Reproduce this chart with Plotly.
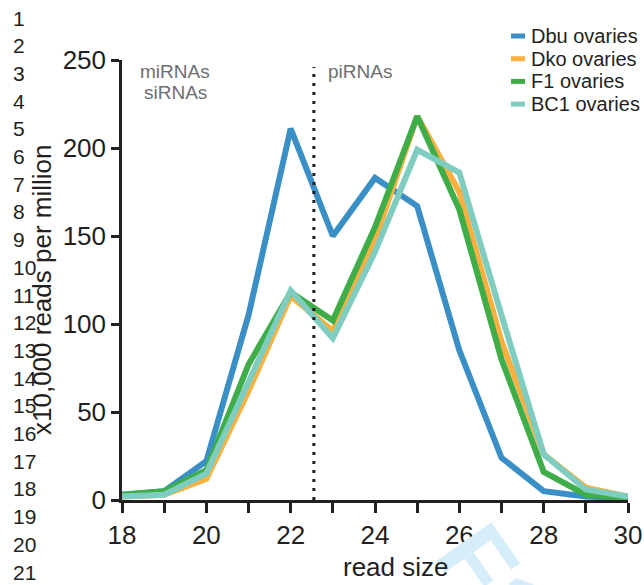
import plotly.graph_objects as go

# read sizes (nt) and normalised counts (x10,000 reads per million)
read_size = [18, 19, 20, 21, 22, 23, 24, 25, 26, 27, 28, 29, 30]
dbu = [3, 5, 22, 105, 211, 150, 183, 167, 85, 24, 5, 2, 1]
dko = [2, 3, 12, 62, 116, 96, 148, 218, 175, 90, 26, 7, 2]
f1 = [3, 5, 17, 77, 118, 102, 155, 218, 165, 80, 16, 3, 1]
bc1 = [2, 3, 15, 68, 119, 92, 141, 199, 186, 105, 26, 6, 2]

series_names = ["Dbu ovaries", "Dko ovaries", "F1 ovaries", "BC1 ovaries"]
series_values = [dbu, dko, f1, bc1]
colores = ["#3a90c6", "#fbb040", "#3fae49", "#7fcdc0"]

divisor = 22.55  # miRNA/siRNA | piRNA boundary
line_numbers = list(range(1, 22))

FONT = "Liberation Sans, Arial, sans-serif"
TXT = "#231f20"
GRIS = "#6d6e71"
W, H = 644, 585
L, R, T, B = 122, 628, 60, 500  # plot area in pixels


def paper(x, y):
    return (x - L) / (R - L), (B - y) / (B - T)


def texto(x, y, s, size, color=TXT, xanchor="left", **kw):
    px_, py_ = paper(x, y)
    return dict(x=px_, y=py_, xref="paper", yref="paper", text=s, showarrow=False,
                xanchor=xanchor, yanchor="middle",
                font=dict(family=FONT, size=size, color=color), **kw)


fig = go.Figure()
for nome, vals, cor in zip(series_names, series_values, colores):
    fig.add_trace(
        go.Scatter(x=read_size, y=vals, name=nome, mode="lines",
                   line=dict(color=cor, width=6), showlegend=False)
    )

# dotted boundary
fig.add_shape(type="line", x0=divisor, x1=divisor, y0=0, y1=246, xref="x", yref="y",
              line=dict(color=TXT, width=3, dash="3px,6px"))

anots = []
# watermark (below everything else)
anots.append(texto(493, 583, "<b>F1</b>", 98, color="#d6edfa", xanchor="center", textangle=55))

# region labels
anots.append(texto(175, 72, "miRNAs", 19, GRIS, xanchor="center"))
anots.append(texto(175, 92, "siRNAs", 19, GRIS, xanchor="center"))
anots.append(texto(326, 72, "piRNAs", 19, GRIS))

# custom legend
for i, (nome, cor) in enumerate(zip(series_names, colores)):
    yy = 36 + i * 22.7
    x0, y0 = paper(511, yy)
    x1, _ = paper(525, yy)
    fig.add_shape(type="line", xref="paper", yref="paper", x0=x0, x1=x1, y0=y0, y1=y0,
                  line=dict(color=cor, width=5))
    anots.append(texto(529, yy, nome, 20))

# axis titles
anots.append(texto(42, 290, "x10,000 reads per million", 26, xanchor="center", textangle=-90))
anots.append(texto(396, 567, "read size", 26, xanchor="center"))

# manuscript line numbers
for n in line_numbers:
    anots.append(texto(11, 18 + (n - 1) * 27.7, str(n), 21))

fig.update_layout(
    width=W, height=H,
    margin=dict(l=L, r=W - R, t=T, b=H - B, autoexpand=False),
    paper_bgcolor="white", plot_bgcolor="white",
    font=dict(family=FONT, size=26, color=TXT),
    annotations=anots,
    xaxis=dict(
        range=[18, 30], dtick=2, tick0=18, ticks="outside", ticklen=10, tickwidth=2.5,
        tickcolor=TXT, showline=True, linecolor=TXT, linewidth=2.5,
        showgrid=False, zeroline=False, automargin=False,
        minor=dict(dtick=1, ticks="outside", ticklen=10, tickwidth=2.5, tickcolor=TXT),
    ),
    yaxis=dict(
        range=[0, 250], dtick=50, ticks="outside", ticklen=8, tickwidth=2.5,
        tickcolor=TXT, showline=True, linecolor=TXT, linewidth=2.5,
        showgrid=False, zeroline=False, automargin=False,
    ),
)

fig.write_html("out.html", config={"displayModeBar": False},
               post_script="document.body.style.margin='0';")
